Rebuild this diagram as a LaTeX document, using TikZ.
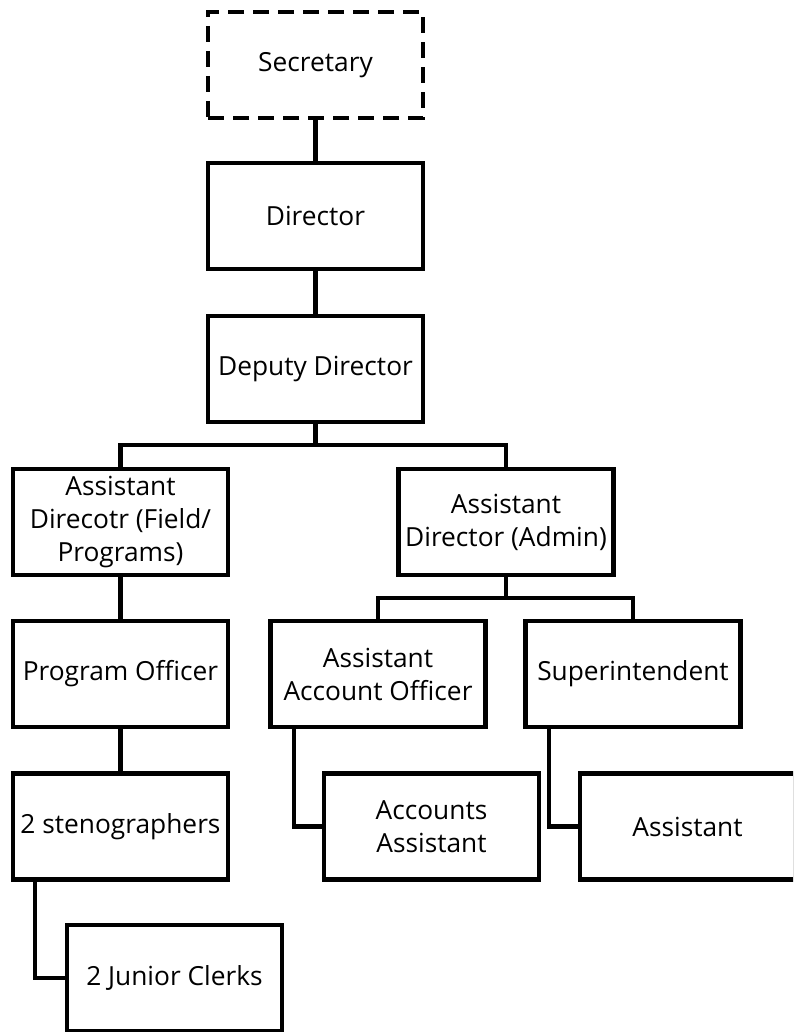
\documentclass[tikz,border=0pt]{standalone}
\usepackage{fontspec}
\setmainfont{Open Sans}
\begin{document}
\begin{tikzpicture}[x=1pt,y=-1pt,
  box/.style={draw=black, line width=4.8pt, fill=white, minimum width=215pt, minimum height=106pt,
    inner sep=2pt, align=center, font=\fontsize{26.3}{33}\selectfont},
  dbox/.style={box, dash pattern=on 16pt off 9pt},
  conn/.style={draw=black, line width=4.8pt}]
\useasboundingbox (0,0) rectangle (793,1032);
\clip (0,0) rectangle (793,1032);
\fill[white] (0,0) rectangle (793,1032);
\coordinate (b1) at (315.5,445);
\coordinate (b2) at (506,598);
\node[dbox] (sec) at (315.5,65) {Secretary};
\node[box] (dir) at (315.5,216) {Director};
\node[box] (dd) at (315.5,369) {Deputy Director};
\node[box] (adf) at (120.5,522) {Assistant\\Direcotr (Field/\\Programs)};
\node[box] (ada) at (506,522) {Assistant\\Director (Admin)};
\node[box] (po) at (120.5,674) {Program Officer};
\node[box] (aao) at (378,674) {Assistant\\Account Officer};
\node[box] (sup) at (633,674) {Superintendent};
\node[box] (st) at (120.5,826.5) {2 stenographers};
\node[box] (aa) at (431.5,826.5) {Accounts\\Assistant};
\node[box] (as) at (687.5,826.5) {Assistant};
\node[box] (jc) at (174.5,978) {2 Junior Clerks};
\path[conn] (sec.south) -- (dir.north);
\path[conn] (dir.south) -- (dd.north);
\path[conn] (dd.south) -- (b1);
\path[conn] (adf.north) |- (b1) -| (ada.north);
\path[conn] (adf.south) -- (po.north);
\path[conn] (po.south) -- (st.north);
\path[conn] (ada.south) -- (b2);
\path[conn] (aao.north) |- (b2) -| (sup.north);
\path[conn] ([xshift=-85.5pt]st.south) |- (jc.west);
\path[conn] ([xshift=-84pt]aao.south) |- (aa.west);
\path[conn] ([xshift=-84pt]sup.south) |- (as.west);
\end{tikzpicture}
\end{document}
